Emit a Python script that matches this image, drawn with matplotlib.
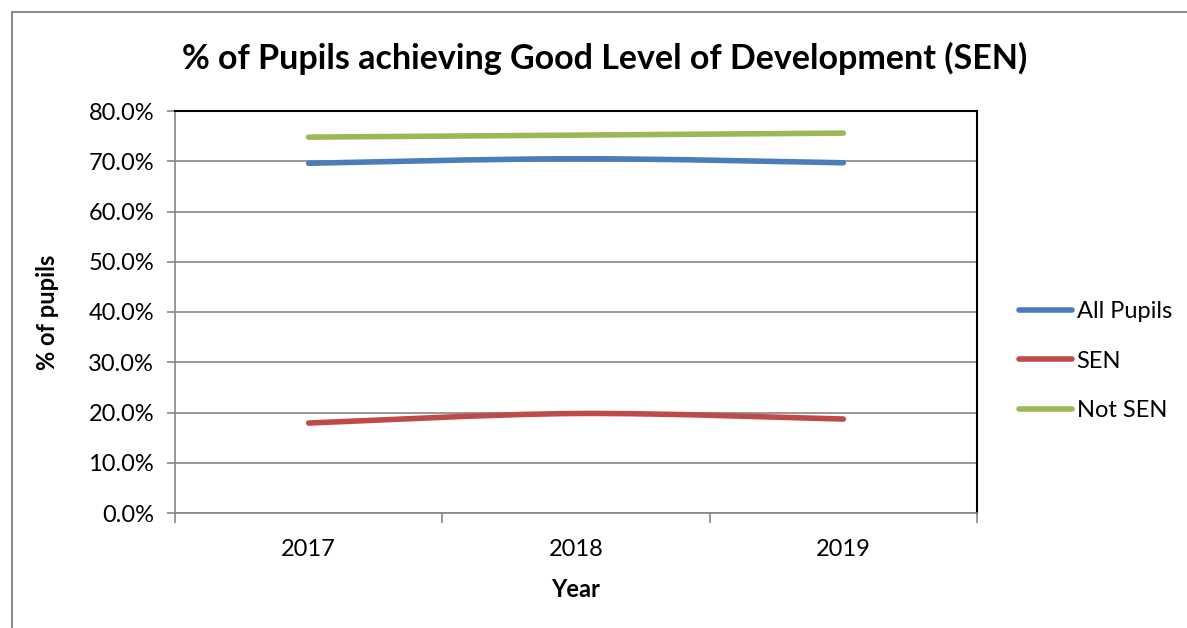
import matplotlib
matplotlib.use("Agg")
import matplotlib.pyplot as plt
from matplotlib.path import Path
from matplotlib.patches import PathPatch, Rectangle
from matplotlib.lines import Line2D
import numpy as np

years = ["2017", "2018", "2019"]
all_pupils = [69.6, 70.5, 69.7]
sen = [17.9, 19.8, 18.7]
not_sen = [74.8, 75.2, 75.6]
series_names = ["All Pupils", "SEN", "Not SEN"]
colors = ["#4A7EBB", "#BE4B48", "#98B954"]

plt.rcParams['font.family'] = ['Lato', 'DejaVu Sans']

fig = plt.figure(figsize=(11.87, 6.28), dpi=100)
fig.patches.append(Rectangle((12/1187, -0.1), 1.2, (628-12)/628 + 0.1,
                             transform=fig.transFigure, fill=False,
                             edgecolor="#8c8c8c", linewidth=1.5))

ax = fig.add_axes([175/1187, 1-513/628, (977-175)/1187, (513-111)/628])

def smooth_path(xs, ys, t=1/6):
    xs = np.asarray(xs, float); ys = np.asarray(ys, float)
    n = len(xs)
    verts = [(xs[0], ys[0])]
    codes = [Path.MOVETO]
    for i in range(n-1):
        p0 = np.array([xs[max(i-1, 0)], ys[max(i-1, 0)]])
        p1 = np.array([xs[i], ys[i]])
        p2 = np.array([xs[i+1], ys[i+1]])
        p3 = np.array([xs[min(i+2, n-1)], ys[min(i+2, n-1)]])
        c1 = p1 + (p2 - p0) * t
        c2 = p2 - (p3 - p1) * t
        verts += [tuple(c1), tuple(c2), tuple(p2)]
        codes += [Path.CURVE4] * 3
    return Path(verts, codes)

xs = np.arange(1, len(years)+1)
for vals, c in zip([all_pupils, sen, not_sen], colors):
    ax.add_patch(PathPatch(smooth_path(xs, vals), facecolor="none", edgecolor=c,
                           linewidth=4.0, capstyle="round", zorder=3))

ax.set_xlim(0.5, len(years) + 0.5)
ax.set_ylim(0, 80)
ax.set_yticks(np.arange(0, 81, 10))
ax.set_yticklabels([f"{v:.1f}%" for v in np.arange(0, 81, 10)], fontsize=17)
ax.set_xticks(xs)
ax.set_xticklabels(years, fontsize=17)
ax.set_xticks(np.arange(0.5, len(years) + 1, 1), minor=True)
ax.tick_params(axis='x', which='major', length=0, pad=19)
ax.tick_params(axis='x', which='minor', length=7, color="#868686", width=1.2)
ax.tick_params(axis='y', length=6, color="#868686", width=1.2, pad=9)
ax.grid(axis='y', color="#868686", linewidth=1.2, zorder=1)
ax.set_axisbelow(True)
for s in ['left', 'bottom']:
    ax.spines[s].set_color("#868686"); ax.spines[s].set_linewidth(1.2)
for s in ['top', 'right']:
    ax.spines[s].set_color("black"); ax.spines[s].set_linewidth(1.5)

ax.set_xlabel("Year", fontsize=17, fontweight='bold', labelpad=13)
ax.set_ylabel("% of pupils", fontsize=17, fontweight='bold', labelpad=21)

fig.text(605/1187, 1-58/628, "% of Pupils achieving Good Level of Development (SEN)",
         ha='center', va='center', fontsize=24.5, fontweight='bold')

handles = [Line2D([], [], color=c, linewidth=4.0, solid_capstyle='round') for c in colors]
fig.legend(handles, series_names, loc='center left',
           bbox_to_anchor=(1007/1187, 1-361/628), frameon=False, fontsize=17,
           handlelength=2.25, handletextpad=0.2, labelspacing=1.2, borderpad=0)

fig.savefig("out.png", dpi=100)
